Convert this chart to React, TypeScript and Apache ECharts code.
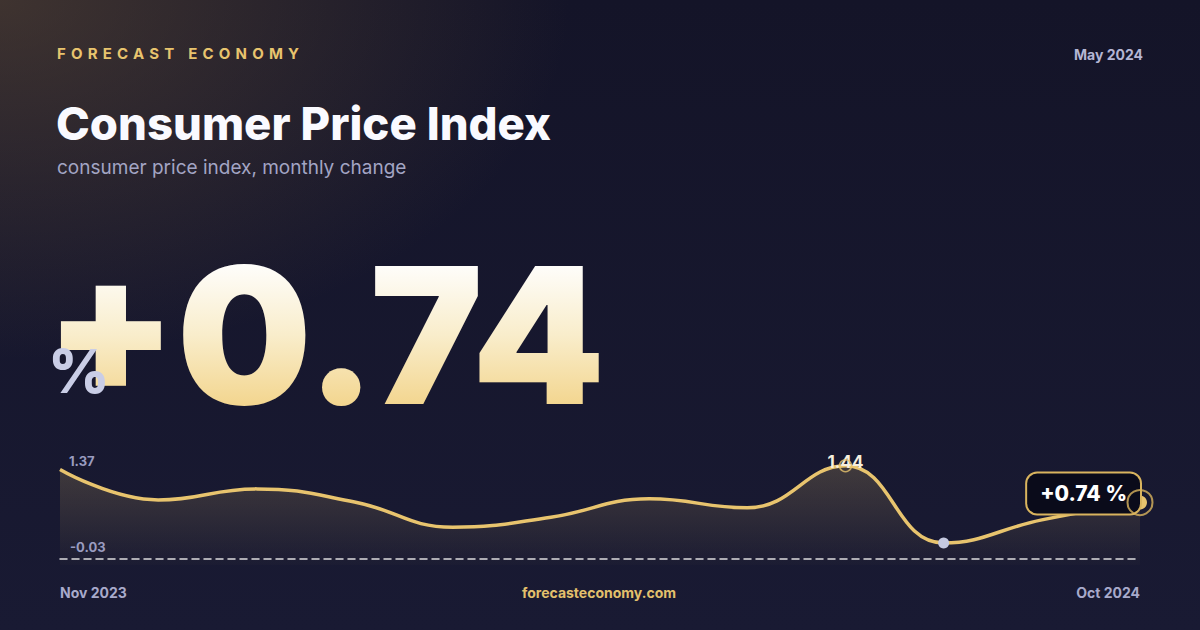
import { useEffect, useRef } from "react";
import * as echarts from "echarts";

/** Monthly CPI change, Nov 2023 - Oct 2024 */
const months = [
  "Nov 2023", "Dec 2023", "Jan 2024", "Feb 2024", "Mar 2024", "Apr 2024",
  "May 2024", "Jun 2024", "Jul 2024", "Aug 2024", "Sep 2024", "Oct 2024",
];
const cpiChange = [1.37, 0.79, 1.0, 0.75, 0.27, 0.46, 0.81, 0.64, 1.44, -0.03, 0.41, 0.74];
const yRange = [-0.45, 1.55];
const releaseLabel = "May 2024";
const brand = "FORECAST ECONOMY";

const FONT = "Inter, 'Noto Sans', sans-serif";
const GOLD = "#e8c46e";
const SVG_NS = "http://www.w3.org/2000/svg";

export default function App() {
  const chartRef = useRef<HTMLDivElement>(null);

  useEffect(() => {
    document.body.style.margin = "0";
    if (!chartRef.current) return;
    const chart = echarts.init(chartRef.current, null, { renderer: "svg" });

    const last = cpiChange.length - 1;
    const lastVal = cpiChange[last];
    const peakVal = Math.max(...cpiChange);
    const peakIdx = cpiChange.indexOf(peakVal);
    const minVal = Math.min(...cpiChange);
    const signed = (v: number) => `${v >= 0 ? "+" : ""}${v.toFixed(2)}`;
    const bigText = signed(lastVal);

    const lineData = cpiChange.map((v, i) =>
      i === last
        ? {
            value: v,
            symbol: "circle",
            symbolSize: 14,
            itemStyle: { color: GOLD },
            label: {
              show: true,
              position: "left",
              distance: -7,
              offset: [0, -9],
              formatter: `${signed(v)} %`,
              color: "#ffffff",
              fontFamily: FONT,
              fontSize: 21,
              fontWeight: 800,
              backgroundColor: "#0a0b1a",
              borderColor: "#d9b45e",
              borderWidth: 2,
              borderRadius: 10,
              padding: [10, 13, 9, 13],
            },
          }
        : v
    );

    const option = {
      animation: false,
      grid: { left: 60, right: 60, top: 460, bottom: 65 },
      xAxis: {
        type: "category",
        data: months,
        boundaryGap: false,
        offset: -6,
        axisLine: {
          show: true,
          onZero: false,
          lineStyle: { color: "rgba(255,255,255,0.85)", width: 1.5, type: [7, 5] },
        },
        axisTick: { show: false },
        axisLabel: {
          interval: (i: number) => i === 0 || i === last,
          alignMinLabel: "left",
          alignMaxLabel: "right",
          margin: 26,
          color: "#a8aacb",
          fontFamily: FONT,
          fontSize: 14,
          fontWeight: "bold",
        },
        splitLine: { show: false },
      },
      yAxis: {
        type: "value",
        min: yRange[0],
        max: yRange[1],
        show: false,
      },
      series: [
        {
          name: "CPI",
          type: "line",
          data: lineData,
          smooth: 0.45,
          symbol: "none",
          z: 2,
          lineStyle: { color: GOLD, width: 3.5 },
          areaStyle: {
            origin: "start",
            color: new echarts.graphic.LinearGradient(0, 0, 0, 1, [
              { offset: 0, color: "rgba(233,196,110,0.28)" },
              { offset: 1, color: "rgba(233,196,110,0.02)" },
            ]),
          },
          markPoint: {
            z: 5,
            data: [
              {
                type: "max",
                symbol: "circle",
                symbolSize: 2,
                itemStyle: { color: "transparent" },
                label: {
                  show: true,
                  position: "inside",
                  offset: [0, -4],
                  formatter: "{c}",
                  color: "#f5efdf",
                  fontFamily: FONT,
                  fontSize: 17,
                  fontWeight: "bold",
                },
              },
              {
                type: "min",
                symbol: "circle",
                symbolSize: 11,
                itemStyle: { color: "#c5c9e0" },
                label: { show: false },
              },
            ],
          },
        },
        {
          name: "peak ring",
          type: "scatter",
          z: 6,
          data: [[months[peakIdx], peakVal]],
          symbol: "circle",
          symbolSize: 12,
          itemStyle: { color: "transparent", borderColor: GOLD, borderWidth: 1.5 },
        },
        {
          name: "latest ring",
          type: "scatter",
          z: 6,
          data: [[months[last], lastVal]],
          symbol: "circle",
          symbolSize: 25,
          itemStyle: { color: "transparent", borderColor: "#d9b45e", borderWidth: 2 },
        },
      ],
      graphic: [
        {
          type: "text",
          x: 57,
          y: 53,
          style: {
            text: brand,
            fill: GOLD,
            font: `700 15px ${FONT}`,
            verticalAlign: "middle",
          },
        },
        {
          type: "text",
          x: 1143,
          y: 54,
          style: {
            text: releaseLabel,
            fill: "#b4b6d4",
            font: `700 14px ${FONT}`,
            align: "right",
            verticalAlign: "middle",
          },
        },
        {
          type: "text",
          x: 56,
          y: 123,
          style: {
            text: "Consumer Price Index",
            fill: "#fafaff",
            font: `800 45.5px ${FONT}`,
            verticalAlign: "middle",
          },
        },
        {
          type: "text",
          x: 57,
          y: 167,
          style: {
            text: "consumer price index, monthly change",
            fill: "#a3a5c4",
            font: `400 19px ${FONT}`,
            verticalAlign: "middle",
          },
        },
        {
          type: "text",
          x: 45,
          y: 335,
          style: {
            text: bigText,
            font: `900 190px ${FONT}`,
            verticalAlign: "middle",
            fill: "#f9efd2",
            shadowColor: "rgba(0,0,0,0.5)",
            shadowBlur: 24,
            shadowOffsetY: 10,
          },
        },
        {
          type: "text",
          x: 48,
          y: 371,
          style: {
            text: "%",
            fill: "#c9cde6",
            font: `800 60px ${FONT}`,
            verticalAlign: "middle",
          },
        },
        {
          type: "text",
          x: 69,
          y: 461,
          z: 10,
          style: {
            text: cpiChange[0].toFixed(2),
            fill: "#9a9cc0",
            font: `700 13px ${FONT}`,
            verticalAlign: "middle",
          },
        },
        {
          type: "text",
          x: 70,
          y: 547,
          z: 10,
          style: {
            text: minVal.toFixed(2),
            fill: "#9a9cc0",
            font: `700 13px ${FONT}`,
            verticalAlign: "middle",
          },
        },
        {
          type: "text",
          x: 599,
          y: 592,
          style: {
            text: "forecasteconomy.com",
            fill: "#e3c06c",
            font: `700 14px ${FONT}`,
            align: "center",
            verticalAlign: "middle",
          },
        },
      ],
    };

    chart.setOption(option);

    // zrender has no letterSpacing and its svg text ignores gradients here,
    // so finish those two texts on the svg itself
    const svg = chartRef.current.querySelector("svg");
    if (svg) {
      let defs = svg.querySelector("defs");
      if (!defs) {
        defs = document.createElementNS(SVG_NS, "defs");
        svg.insertBefore(defs, svg.firstChild);
      }
      // bounding box of the text cell: cap top sits ~20% down, baseline ~80%
      const grad = document.createElementNS(SVG_NS, "linearGradient");
      grad.setAttribute("id", "bigNumberFill");
      grad.setAttribute("x1", "0");
      grad.setAttribute("y1", "0");
      grad.setAttribute("x2", "0");
      grad.setAttribute("y2", "1");
      [
        ["0.2", "#fefdfa"],
        ["0.5", "#f9edcb"],
        ["0.8", "#f3d690"],
      ].forEach(([offset, color]) => {
        const stop = document.createElementNS(SVG_NS, "stop");
        stop.setAttribute("offset", offset);
        stop.setAttribute("stop-color", color);
        grad.appendChild(stop);
      });
      defs.appendChild(grad);

      svg.querySelectorAll("text").forEach((t) => {
        if (t.textContent === brand) t.setAttribute("letter-spacing", "5.2");
        if (t.textContent === bigText) {
          t.setAttribute("fill", "url(#bigNumberFill)");
          t.style.fill = "url(#bigNumberFill)";
        }
      });
    }

    const handleResize = () => chart.resize();
    window.addEventListener("resize", handleResize);

    return () => {
      window.removeEventListener("resize", handleResize);
      chart.dispose();
    };
  }, []);

  return (
    <div
      ref={chartRef}
      style={{
        width: 1200,
        height: 630,
        background:
          "radial-gradient(ellipse 760px 480px at 0% 0%, rgba(105,82,55,0.5) 0%, rgba(105,82,55,0) 75%), linear-gradient(180deg, #141428 0%, #191a33 100%)",
      }}
    />
  );
}
